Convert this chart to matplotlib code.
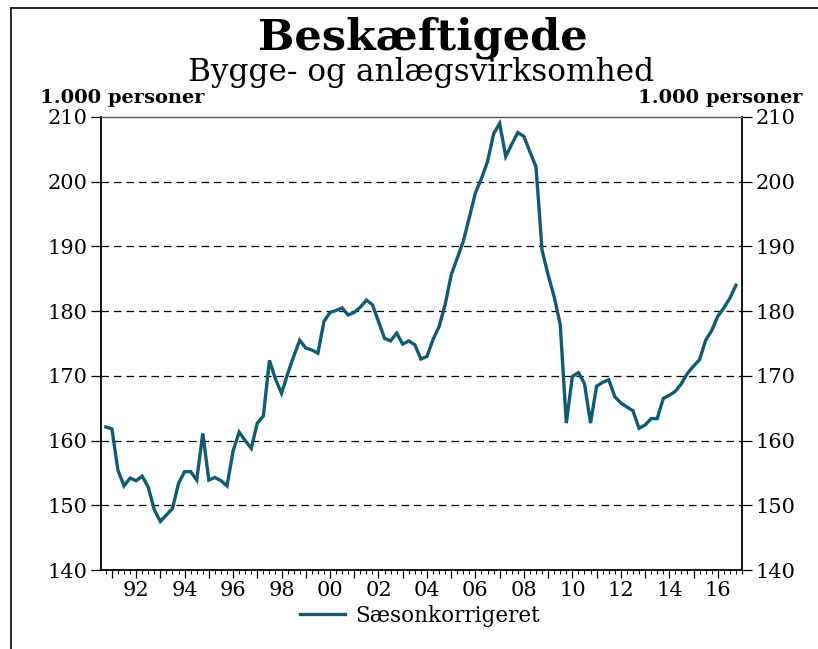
import numpy as np
import matplotlib
matplotlib.use("Agg")
import matplotlib.pyplot as plt
from matplotlib.ticker import MultipleLocator, FixedLocator
from matplotlib.lines import Line2D

# Quarterly data, first observation 1990 Q4 (plotted at 1990.75)
start_year = 1990.75
employed = [
    162.1, 161.8, 155.4, 153.0, 154.2, 153.8, 154.5, 152.8, 149.3, 147.5,
    148.5, 149.5, 153.4, 155.2, 155.2, 153.9, 161.1, 153.9, 154.3, 153.8,
    153.0, 158.4, 161.3, 160.0, 158.8, 162.7, 163.8, 172.4, 169.5, 167.3,
    170.3, 173.0, 175.5, 174.3, 174.0, 173.5, 178.4, 179.8, 180.1, 180.5,
    179.4, 179.8, 180.6, 181.7, 181.0, 178.4, 175.8, 175.4, 176.6, 174.9,
    175.4, 174.8, 172.6, 173.0, 175.6, 177.6, 181.0, 185.6, 188.2, 190.8,
    194.5, 198.3, 200.5, 203.1, 207.4, 209.0, 203.9, 205.8, 207.6, 207.0,
    204.6, 202.3, 189.4, 185.6, 182.2, 177.9, 162.7, 169.9, 170.5, 168.8,
    162.7, 168.4, 169.0, 169.4, 166.8, 165.8, 165.2, 164.6, 161.9, 162.4,
    163.4, 163.4, 166.5, 167.0, 167.6, 168.8, 170.4, 171.5, 172.5, 175.5,
    177.0, 179.2, 180.5, 182.0, 184.0,
]
years = start_year + 0.25 * np.arange(len(employed))

label_years = list(range(1992, 2017, 2))
y_ticks = [140, 150, 160, 170, 180, 190, 200, 210]

line_color = "#0e5b72"

plt.rcParams["font.family"] = ["DejaVu Serif"]

fig = plt.figure(figsize=(8.18, 6.49), dpi=100)
ax = fig.add_axes([101 / 818, 1 - 570 / 649, 641 / 818, 453 / 649])

ax.plot(years, employed, color=line_color, lw=2.4, solid_joinstyle="miter")

ax.set_xlim(1990.55, 2017.0)
ax.set_ylim(140, 210)

for v in y_ticks[1:-1]:
    ax.axhline(v, color="black", lw=0.9, dashes=(6, 4), zorder=1)

ax.yaxis.set_major_locator(FixedLocator(y_ticks))
ax.tick_params(axis="y", which="major", direction="out", length=7, width=0.9,
               left=True, right=True, labelleft=True, labelright=True,
               labelsize=15, pad=3)

ax.xaxis.set_minor_locator(MultipleLocator(0.25))
ax.set_xticks(range(1991, 2017))
ax.set_xticklabels([f"{y % 100:02d}" if y in label_years else "" for y in range(1991, 2017)])
ax.tick_params(axis="x", which="major", direction="out", length=6, width=0.9,
               labelsize=15, pad=2)
ax.tick_params(axis="x", which="minor", direction="out", length=3, width=0.8)

for s in ["left", "right", "bottom"]:
    ax.spines[s].set_linewidth(1.3)
    ax.spines[s].set_color("black")
ax.spines["top"].set_linewidth(1.0)
ax.spines["top"].set_color("#555555")

fig.text(423 / 818, 1 - 38 / 649, "Beskæftigede", ha="center", va="center",
         fontsize=31, fontweight="bold")
fig.text(421 / 818, 1 - 72 / 649, "Bygge- og anlægsvirksomhed", ha="center",
         va="center", fontsize=22.5)
fig.text(40 / 818, 1 - 98 / 649, "1.000 personer", ha="left", va="center",
         fontsize=14, fontweight="bold")
fig.text(803 / 818, 1 - 98 / 649, "1.000 personer", ha="right", va="center",
         fontsize=14, fontweight="bold")

handle = Line2D([], [], color=line_color, lw=2.4)
fig.legend([handle], ["Sæsonkorrigeret"], loc="center",
           bbox_to_anchor=(420 / 818, 1 - 616 / 649), frameon=False,
           fontsize=15.5, handlelength=2.1, handletextpad=0.5)

# frame around the picture (left and top edges visible)
fig.add_artist(Line2D([11 / 818, 11 / 818], [0, 1 - 8 / 649], color="black",
                      lw=1.2, transform=fig.transFigure))
fig.add_artist(Line2D([11 / 818, 1], [1 - 8 / 649, 1 - 8 / 649], color="black",
                      lw=1.2, transform=fig.transFigure))

fig.savefig("out.png", dpi=100)
